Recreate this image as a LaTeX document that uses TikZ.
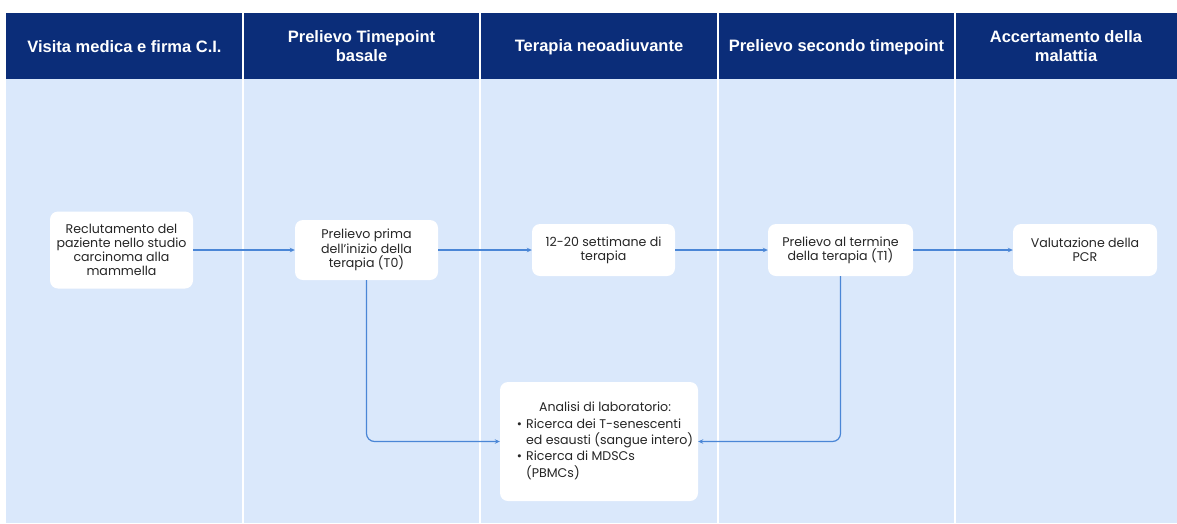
\documentclass[tikz,border=0pt]{standalone}
\usepackage{fontspec}
\setmainfont{Poppins}
\newfontfamily\hdrfont{Liberation Sans}
\usetikzlibrary{arrows.meta}
\definecolor{hdrblue}{HTML}{0B2D79}
\definecolor{bodyblue}{HTML}{DAE8FB}
\definecolor{arrowblue}{HTML}{4A86D6}
\definecolor{txt}{HTML}{262626}
\tikzset{
  hdrtext/.style={text=white, align=center, font=\hdrfont\bfseries\fontsize{16.5}{19}\selectfont},
  box/.style={fill=white, rounded corners=8pt, align=center, text=txt, inner sep=2pt,
              font=\fontsize{12.6}{14.2}\selectfont},
  conn/.style={draw=arrowblue, line width=1.2pt, -{Stealth[length=5pt,width=4.5pt]}},
  divider/.style={draw=white, line width=1.2pt}
}
\begin{document}
\begin{tikzpicture}[x=1pt,y=-1pt]
\useasboundingbox (0,0) rectangle (1177,523);
\fill[white] (0,0) rectangle (1177,523);
\fill[hdrblue] (6,13) rectangle (1177,79);
\fill[bodyblue] (6,79) rectangle (1177,523);
\foreach \x in {243,480,718,955} { \draw[divider] (\x,13) -- (\x,523); }

\node[hdrtext] (h1) at (124.5,47) {Visita medica e firma C.I.};
\node[hdrtext] (h2) at (361.5,46) {Prelievo Timepoint\\basale};
\node[hdrtext] (h3) at (599,47) {Terapia neoadiuvante};
\node[hdrtext] (h4) at (836.5,47) {Prelievo secondo timepoint};
\node[hdrtext] (h5) at (1066,46) {Accertamento della\\malattia};

\node[box, minimum width=143, minimum height=77] (b1) at (121.5,250) {Reclutamento del\\paziente nello studio\\carcinoma alla\\mammella};
\node[box, minimum width=143, minimum height=60] (b2) at (366.5,250) {Prelievo prima\\dell’inizio della\\terapia (T0)};
\node[box, minimum width=143, minimum height=52] (b3) at (603.5,250) {12-20 settimane di\\terapia};
\node[box, minimum width=145, minimum height=52] (b4) at (840.5,250) {Prelievo al termine\\della terapia (T1)};
\node[box, minimum width=144, minimum height=52] (b5) at (1085,250) {Valutazione della\\PCR};
\node[box, minimum width=198, minimum height=119] (b6) at (599,441.5) {\hspace*{12pt}\fontsize{12.6}{16.2}\selectfont
  \begin{tabular}{@{}l@{\hspace{4pt}}l@{}}
  \multicolumn{2}{c}{Analisi di laboratorio:}\\
  \textbullet & Ricerca dei T-senescenti\\
   & ed esausti (sangue intero)\\
  \textbullet & Ricerca di MDSCs\\
   & (PBMCs)
  \end{tabular}};

\draw[conn] (b1) -- (b2);
\draw[conn] (b2) -- (b3);
\draw[conn] (b3) -- (b4);
\draw[conn] (b4) -- (b5);
\draw[conn, rounded corners=8pt] (b2.south) |- (b6.west);
\draw[conn, rounded corners=8pt] (b4.south) |- (b6.east);
\end{tikzpicture}
\end{document}
